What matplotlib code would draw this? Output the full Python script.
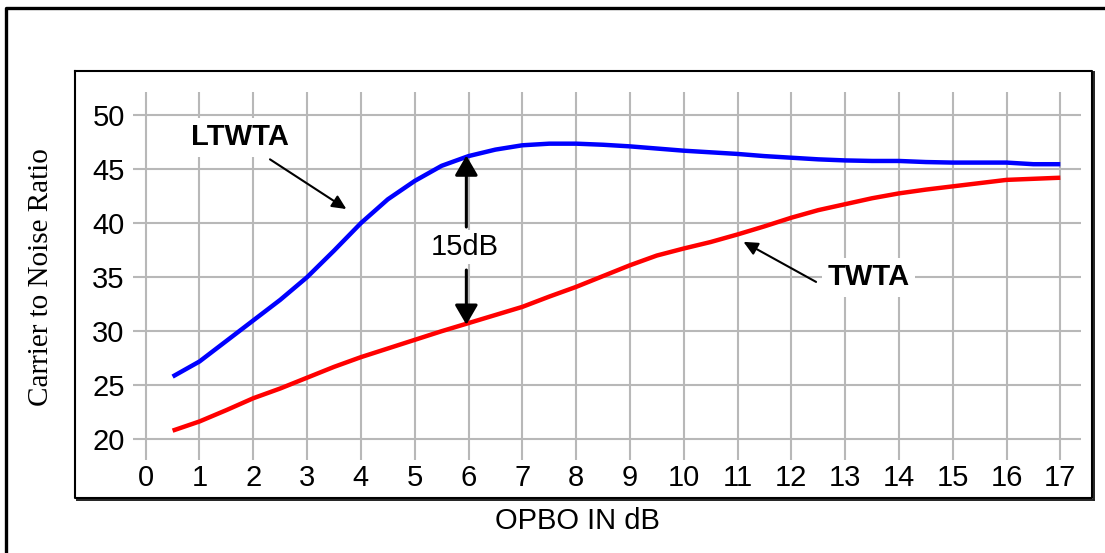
import matplotlib
matplotlib.use("Agg")
import matplotlib.pyplot as plt
from matplotlib.lines import Line2D

# ---- data ----
opbo = [0.5, 1.0, 1.5, 2.0, 2.5, 3.0, 3.5, 4.0, 4.5, 5.0, 5.5, 6.0, 6.5, 7.0, 7.5, 8.0, 8.5,
        9.0, 9.5, 10.0, 10.5, 11.0, 11.5, 12.0, 12.5, 13.0, 13.5, 14.0, 14.5, 15.0, 15.5,
        16.0, 16.5, 17.0]
ltwta = [25.8, 27.2, 29.1, 31.0, 32.9, 35.0, 37.45, 40.0, 42.2, 43.9, 45.3, 46.2, 46.8, 47.2,
         47.35, 47.35, 47.25, 47.1, 46.9, 46.7, 46.55, 46.4, 46.2, 46.05, 45.9, 45.8, 45.75,
         45.75, 45.65, 45.6, 45.6, 45.6, 45.45, 45.45]
twta = [20.8, 21.65, 22.7, 23.8, 24.7, 25.7, 26.7, 27.6, 28.4, 29.2, 30.0, 30.75, 31.5, 32.25,
        33.2, 34.1, 35.1, 36.1, 37.0, 37.65, 38.25, 38.95, 39.7, 40.5, 41.2, 41.75, 42.3,
        42.75, 43.1, 43.4, 43.7, 44.0, 44.1, 44.2]
x_ticks = list(range(0, 18))
y_ticks = [20, 25, 30, 35, 40, 45, 50]

W, H = 1105, 553
fig = plt.figure(figsize=(W / 100, H / 100), dpi=100)
fig.patch.set_facecolor("white")

def fx(px):
    return px / W

def fy(py):
    return 1 - py / H

SANS = ["Liberation Sans", "DejaVu Sans"]
SERIF = ["Liberation Serif", "DejaVu Serif"]
FS = 21

# axes region in pixels
L, R, T, B = 133, 1080.5, 92, 460
ax = fig.add_axes([fx(L), fy(B), fx(R - L), (B - T) / H])
ax.set_xlim(-0.236, 17.375)
ax.set_ylim(18.085, 52.13)
for s in ax.spines.values():
    s.set_visible(False)
ax.set_xticks(x_ticks)
ax.set_yticks(y_ticks)
ax.tick_params(length=0, labelsize=FS)
ax.tick_params(axis="x", pad=3)
ax.tick_params(axis="y", pad=6)
for lab in ax.get_xticklabels() + ax.get_yticklabels():
    lab.set_fontfamily(SANS)
ax.grid(True, color="#b8b8b8", lw=1.5)
ax.set_axisbelow(True)

ax.plot(opbo, ltwta, color="#0000ff", lw=3.2, solid_capstyle="butt", zorder=3)
ax.plot(opbo, twta, color="#ff0000", lw=3.2, solid_capstyle="butt", zorder=3)

wb = dict(facecolor="white", edgecolor="none", pad=4)
ax.text(1.753, 47.22, "LTWTA", fontsize=FS, fontweight="bold", family=SANS,
        ha="center", va="baseline", bbox=wb, zorder=4)
ax.text(13.43, 34.27, "TWTA", fontsize=FS, fontweight="bold", family=SANS,
        ha="center", va="baseline", bbox=wb, zorder=4)
ax.text(5.935, 37.05, "15dB", fontsize=FS, family=SANS,
        ha="center", va="baseline", bbox=dict(facecolor="white", edgecolor="none", pad=2), zorder=4)

small = dict(arrowstyle="-|>,head_length=0.85,head_width=0.4", lw=1.5, color="black",
             mutation_scale=10, shrinkA=0, shrinkB=0)
big = dict(arrowstyle="-|>,head_length=1.2,head_width=0.7", lw=2.2, color="black",
           mutation_scale=10, shrinkA=0, shrinkB=0)
ax.annotate("", xy=(3.73, 41.3), xytext=(2.31, 45.9), arrowprops=small, zorder=5)
ax.annotate("", xy=(11.11, 38.27), xytext=(12.46, 34.56), arrowprops=small, zorder=5)
ax.annotate("", xy=(5.96, 46.25), xytext=(5.96, 39.64), arrowprops=big, zorder=5)
ax.annotate("", xy=(5.96, 30.6), xytext=(5.96, 35.66), arrowprops=big, zorder=5)

# axis labels
fig.text(fx(577), fy(529), "OPBO IN dB", fontsize=FS, family=SANS, ha="center", va="baseline")
fig.text(fx(48), fy(277), "Carrier to Noise Ratio", fontsize=FS, family=SERIF, rotation=90,
         rotation_mode="anchor", ha="center", va="baseline")

# inner box with shadow
def pline(xs, ys, lw, color="black"):
    fig.add_artist(Line2D([fx(v) for v in xs], [fy(v) for v in ys], lw=lw, color=color,
                          transform=fig.transFigure, solid_capstyle="projecting"))

pline([75.5, 1092, 1092, 75.5, 75.5], [71, 71, 498, 498, 71], 1.5)
pline([1093.5, 1093.5], [72, 499.5], 1.4, "#222222")
pline([76.5, 1093.5], [499.5, 499.5], 1.4, "#222222")

# outer frame (partially outside image)
pline([5.5, 5.5, 1110], [560, 8, 8], 2.4)

fig.savefig("out.png", dpi=100, facecolor="white")
